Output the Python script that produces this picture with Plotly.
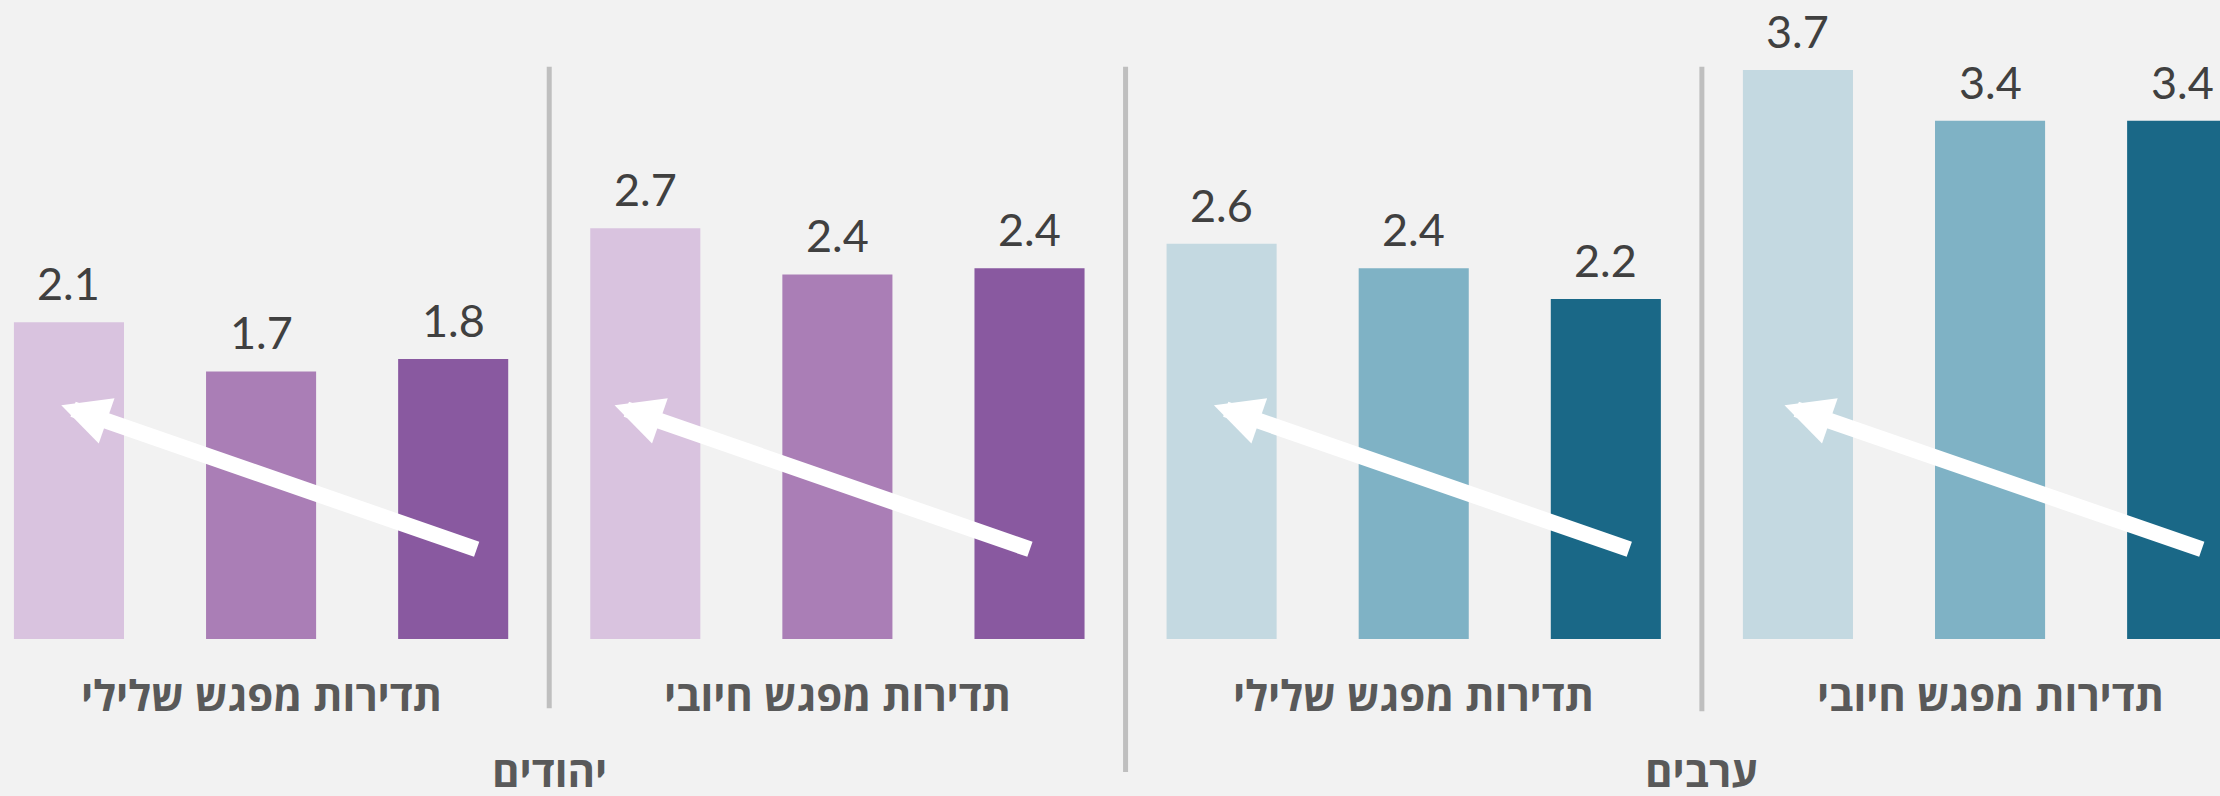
import plotly.graph_objects as go

# ---- data (left to right as drawn) ----
populations = ["יהודים", "ערבים"]
encounter_labels = ["תדירות מפגש שלילי", "תדירות מפגש חיובי", "תדירות מפגש שלילי", "תדירות מפגש חיובי"]
jews_negative = [2.06, 1.74, 1.82]
jews_positive = [2.67, 2.37, 2.41]
arabs_negative = [2.57, 2.41, 2.21]
arabs_positive = [3.70, 3.37, 3.37]

purple_shades = ["#D9C3DF", "#AA7EB6", "#8959A0"]
blue_shades = ["#C4D9E1", "#7FB2C5", "#1A6887"]

series = [jews_negative, jews_positive, arabs_negative, arabs_positive]
palettes = [purple_shades, purple_shades, blue_shades, blue_shades]

# arrow decoration offsets (tip relative to first bar, tail relative to last bar in group)
arrow_tip_dx = [-0.04, -0.16, -0.04, -0.07]
arrow_tail_dx = [0.13, 0.01, 0.13, 0.11]
arrow_tip_y = 1.52
arrow_tail_y = 0.58

BG = "#F2F2F2"
NUM_FONT = "Lato, Open Sans, sans-serif"
HEB_FONT = "Open Sans, Liberation Sans, DejaVu Sans, sans-serif"

xs, ys, cols = [], [], []
for g, (vals, pal) in enumerate(zip(series, palettes)):
    for k, v in enumerate(vals):
        xs.append(g * 3 + k)
        ys.append(v)
        cols.append(pal[k])

fig = go.Figure()
fig.add_trace(go.Bar(x=xs, y=ys, marker=dict(color=cols, line=dict(width=0)),
                     width=0.573, hoverinfo="skip"))

annotations = []
# value labels
for x, v in zip(xs, ys):
    annotations.append(dict(x=x, y=v, xref="x", yref="y", text=f"{v:.1f}",
                            showarrow=False, yanchor="bottom", yshift=10,
                            font=dict(family=NUM_FONT, size=45, color="#404040")))
# category labels
for g, lab in enumerate(encounter_labels):
    annotations.append(dict(x=g * 3 + 1, y=-0.36, xref="x", yref="y",
                            text=f"<b>{lab}</b>", showarrow=False, yanchor="middle",
                            font=dict(family=HEB_FONT, size=42, color="#595959")))
# population labels
for p, lab in enumerate(populations):
    annotations.append(dict(x=p * 6 + 2.5, y=-0.655, xref="x", yref="y",
                            text=f"<b>{lab}</b>", showarrow=False, yanchor="top",
                            font=dict(family=HEB_FONT, size=42, color="#595959")))
# arrows
for g in range(4):
    annotations.append(dict(x=g * 3 + arrow_tip_dx[g], y=arrow_tip_y,
                            ax=g * 3 + 2 + arrow_tail_dx[g], ay=arrow_tail_y,
                            xref="x", yref="y", axref="x", ayref="y",
                            text="", showarrow=True, arrowhead=2, arrowsize=0.6,
                            arrowwidth=16, arrowcolor="#FFFFFF", standoff=0))

shapes = []
for sep, bottom in [(2.5, -0.45), (5.5, -0.865), (8.5, -0.47)]:
    shapes.append(dict(type="line", xref="x", yref="y", x0=sep, x1=sep, y0=3.72, y1=bottom,
                       line=dict(color="#BFBFBF", width=5)))

fig.update_layout(
    width=2220, height=796,
    margin=dict(l=0, r=0, t=0, b=0),
    paper_bgcolor=BG, plot_bgcolor=BG,
    showlegend=False,
    xaxis=dict(range=[-0.359, 11.197], visible=False, fixedrange=True),
    yaxis=dict(range=[-1.0208, 4.1547], visible=False, fixedrange=True),
    annotations=annotations, shapes=shapes,
)
fig.write_html("out.html", config={"displayModeBar": False},
               post_script="document.body.style.margin='0px';document.body.style.background='#F2F2F2';")
